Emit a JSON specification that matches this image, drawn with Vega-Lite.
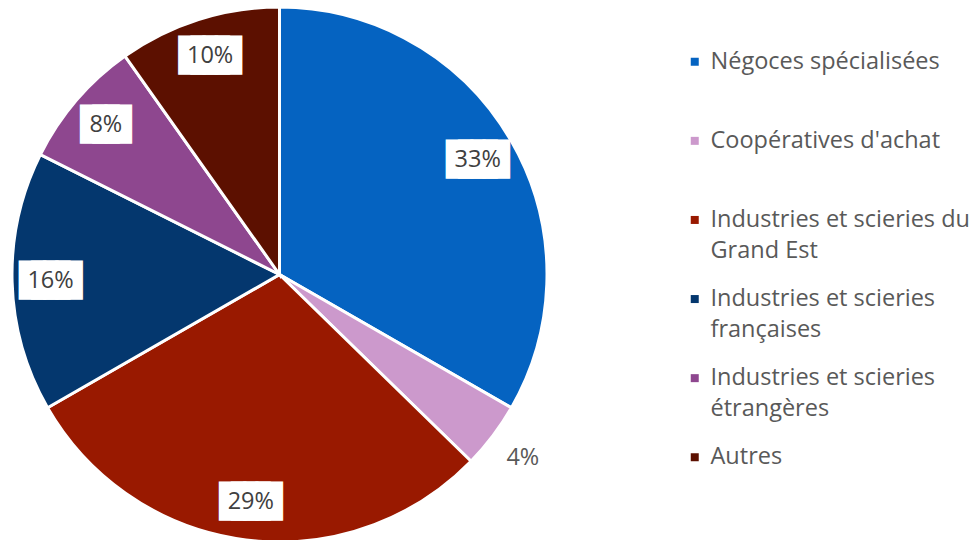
{
  "$schema": "https://vega.github.io/schema/vega-lite/v6.json",
  "width": 559,
  "height": 531,
  "padding": {"left": 0, "top": 9, "right": 416, "bottom": 0},
  "autosize": {"type": "none"},
  "background": "white",
  "config": {
    "view": {"stroke": null},
    "style": {"guide-label": {"lineHeight": 31}}
  },
  "data": {
    "values": [
      {"cat": "Négoces spécialisées", "pct": 0.333, "idx": 1},
      {"cat": "Coopératives d'achat", "pct": 0.040, "idx": 2},
      {"cat": "Industries et scieries du Grand Est", "pct": 0.294, "idx": 3},
      {"cat": "Industries et scieries françaises", "pct": 0.157, "idx": 4},
      {"cat": "Industries et scieries étrangères", "pct": 0.078, "idx": 5},
      {"cat": "Autres", "pct": 0.098, "idx": 6}
    ]
  },
  "encoding": {
    "theta": {"field": "pct", "type": "quantitative", "stack": true},
    "order": {"field": "idx", "type": "quantitative"},
    "color": {
      "field": "cat",
      "type": "nominal",
      "scale": {
        "domain": ["Négoces spécialisées", "Coopératives d'achat", "Industries et scieries du Grand Est", "Industries et scieries françaises", "Industries et scieries étrangères", "Autres"],
        "range": ["#0563C1", "#CC99CC", "#991900", "#04376E", "#8E478F", "#5C1000"]
      },
      "legend": {
        "title": null,
        "orient": "none",
        "legendX": 683,
        "legendY": 41,
        "symbolType": "square",
        "symbolSize": 64,
        "symbolStrokeWidth": 0,
        "labelFont": "Open Sans",
        "labelFontSize": 23.5,
        "labelColor": "#595959",
        "labelLimit": 400,
        "labelOffset": 4,
        "gridAlign": "all",
        "rowPadding": 23.1,
        "labelExpr": "datum.label == 'Industries et scieries du Grand Est' ? ['Industries et scieries du', 'Grand Est'] : datum.label == 'Industries et scieries françaises' ? ['Industries et scieries', 'françaises'] : datum.label == 'Industries et scieries étrangères' ? ['Industries et scieries', 'étrangères'] : datum.label"
      }
    }
  },
  "layer": [
    {"mark": {"type": "arc", "radius": 267.5, "stroke": "white", "strokeWidth": 3}},
    {
      "mark": {"type": "text", "radius": 229, "font": "DejaVu Sans Mono", "fontSize": 20.3, "stroke": "white", "strokeWidth": 15.1, "strokeJoin": "miter"},
      "encoding": {
        "color": {"value": "white"},
        "text": {"condition": [{"test": "datum.pct < 0.05", "value": ""}, {"test": "datum.pct < 0.095", "value": "███"}], "value": "████"}
      }
    },
    {
      "mark": {"type": "text", "radius": 229, "font": "Open Sans", "fontSize": 23.5},
      "encoding": {
        "color": {"value": "#404040"},
        "text": {"condition": {"test": "datum.pct < 0.05", "value": ""}, "field": "pct", "type": "quantitative", "format": ".0%"}
      }
    },
    {
      "mark": {"type": "text", "radius": 305, "font": "Open Sans", "fontSize": 23.5},
      "encoding": {
        "color": {"value": "#595959"},
        "text": {"condition": {"test": "datum.pct >= 0.05", "value": ""}, "field": "pct", "type": "quantitative", "format": ".0%"}
      }
    }
  ]
}
